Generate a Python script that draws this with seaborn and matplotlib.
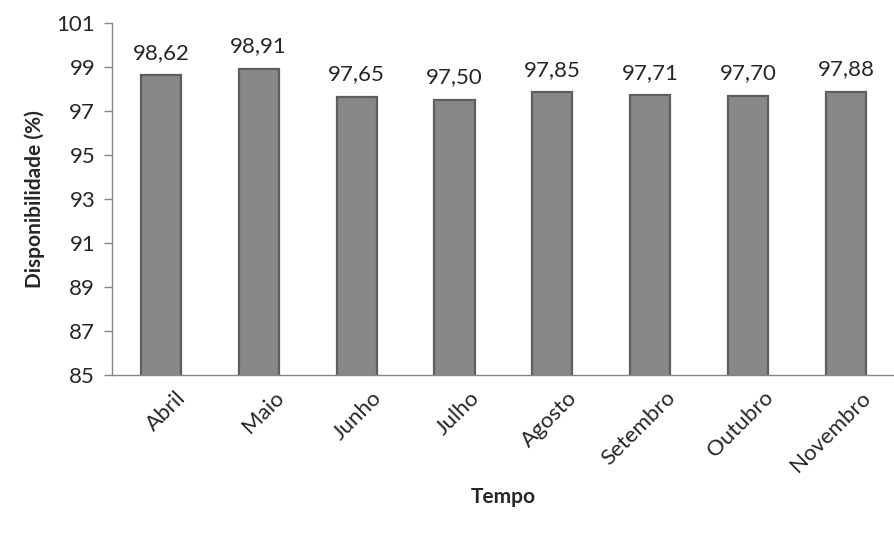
import numpy as np
import pandas as pd
import seaborn as sns
import matplotlib.pyplot as plt

meses = ["Abril", "Maio", "Junho", "Julho", "Agosto", "Setembro", "Outubro", "Novembro"]
disponibilidade = [98.62, 98.91, 97.65, 97.50, 97.85, 97.71, 97.70, 97.88]
rotulos = ["98,62", "98,91", "97,65", "97,50", "97,85", "97,71", "97,70", "97,88"]
ticks_y = [85, 87, 89, 91, 93, 95, 97, 99, 101]

sns.set_style("white")
plt.rcParams['font.family'] = ['Lato', 'DejaVu Sans']

df = pd.DataFrame({"Tempo": meses, "Disp": disponibilidade})

fig = plt.figure(figsize=(8.95, 5.35), dpi=100)
ax = fig.add_axes([0.125, 0.299, 0.875, 0.658])

sns.barplot(data=df, x="Tempo", y="Disp", color="#888888", width=0.41,
            edgecolor="#5e5e5e", linewidth=1.6, saturation=1, ax=ax)

ax.set_ylim(85, 101)
ax.set_xlim(-0.5, 7.5)
ax.set_yticks(ticks_y)
ax.set_yticklabels([str(t) for t in ticks_y], fontsize=16)

# rótulos de dados
for i, (v, r) in enumerate(zip(disponibilidade, rotulos)):
    ax.annotate(r, (i, v), xytext=(0, 9), textcoords="offset points",
                ha="center", va="bottom", fontsize=16)

# rótulos do eixo x levemente deslocados para a direita (como no Excel)
ax.set_xticks(np.arange(len(meses)) + 0.15)
ax.set_xticklabels(meses, rotation=45, ha="right", rotation_mode="anchor", fontsize=16)
ax.set_xticks(np.arange(-0.5, 8, 1), minor=True)
ax.tick_params(axis="x", which="major", length=0, pad=9)
ax.tick_params(axis="x", which="minor", length=6, color="#868686", width=1, direction="out")
ax.tick_params(axis="y", length=6, color="#868686", width=1, direction="out", left=True, pad=6)

for s in ["top", "right"]:
    ax.spines[s].set_visible(False)
for s in ["left", "bottom"]:
    ax.spines[s].set_color("#868686")
    ax.spines[s].set_linewidth(1)

ax.set_xlabel("Tempo", fontsize=15, fontweight="bold", labelpad=8)
ax.set_ylabel("Disponibilidade (%)", fontsize=15, fontweight="bold", labelpad=8)

fig.savefig("out.png", dpi=100)
